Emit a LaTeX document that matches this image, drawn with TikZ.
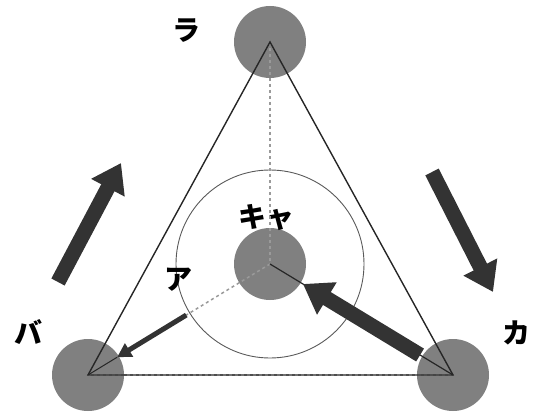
\documentclass[tikz,border=0pt]{standalone}
\usepackage{fontspec}
\usepackage{tikz}
\usetikzlibrary{arrows.meta,positioning,calc}
\newfontfamily\jpfont{Noto Sans CJK JP}
\definecolor{ballgray}{HTML}{808080}
\definecolor{arrowdark}{HTML}{333333}
\definecolor{dotgray}{HTML}{9A9A9A}
\tikzset{
  ball/.style={circle, fill=ballgray, minimum size=72pt, inner sep=0pt},
  ring/.style={circle, draw=black!65, line width=0.9pt, minimum size=188pt, inner sep=0pt},
  label/.style={font=\jpfont\bfseries\fontsize{28}{32}\selectfont, inner sep=0pt},
  edge/.style={draw=black!85, line width=1.4pt},
  guide/.style={draw=dotgray, line width=1.5pt, dash pattern=on 3pt off 3pt},
  fatarrow/.style={draw=arrowdark, line width=15pt, -{Triangle[length=28pt,width=36pt]}},
  thinarrow/.style={draw=arrowdark, line width=5pt, -{Triangle[length=14pt,width=15pt]}}
}
\begin{document}
\begin{tikzpicture}[x=1pt, y=-1pt]
  \useasboundingbox (0,0) rectangle (535,417);
  % balls
  \node[ball] (topball) at (270,42) {};
  \node[ball] (leftball) at (88,375) {};
  \node[ball] (rightball) at (453,375) {};
  \node[ball] (midball) at (270,264) {};
  \node[ring] (orbit) at (midball.center) {};

  % labels
  \node[label] (ra) at (186,31) {ラ};
  \node[label] (ba) at (28,332) {バ};
  \node[label] (ka) at (516,333) {カ};
  \node[label] (kya) at (266,218) {キャ};
  \node[label] (a) at (178,280) {ア};

  % guide lines
  \draw[guide] (topball.center) -- (midball.center);
  \draw[guide] (leftball.center) -- (rightball.center);
  \draw[guide] (midball.center) -- ($(midball.center)!0.46!(leftball.center)$);

  % triangle
  \draw[edge] (topball.center) -- (leftball.center) -- (rightball.center) -- cycle;
  \draw[black!85, line width=1.2pt] (midball.center) -- (rightball.center);
  \draw[black!85, line width=1pt] ($(midball.center)!0.84!(leftball.center)$) -- (leftball.center);

  % arrows
  \draw[fatarrow] ($(rightball.center)!0.18!(midball.center)$) -- ($(rightball.center)!0.82!(midball.center)$);
  \draw[thinarrow] ($(midball.center)!0.46!(leftball.center)$) -- ($(midball.center)!0.84!(leftball.center)$);

  \coordinate (lefttail) at (58,282);
  \coordinate (lefthead) at (121,163);
  \coordinate (righttail) at (432,172);
  \coordinate (righthead) at (493,292);
  \draw[fatarrow] (lefttail) -- (lefthead);
  \draw[fatarrow] (righttail) -- (righthead);
\end{tikzpicture}
\end{document}
